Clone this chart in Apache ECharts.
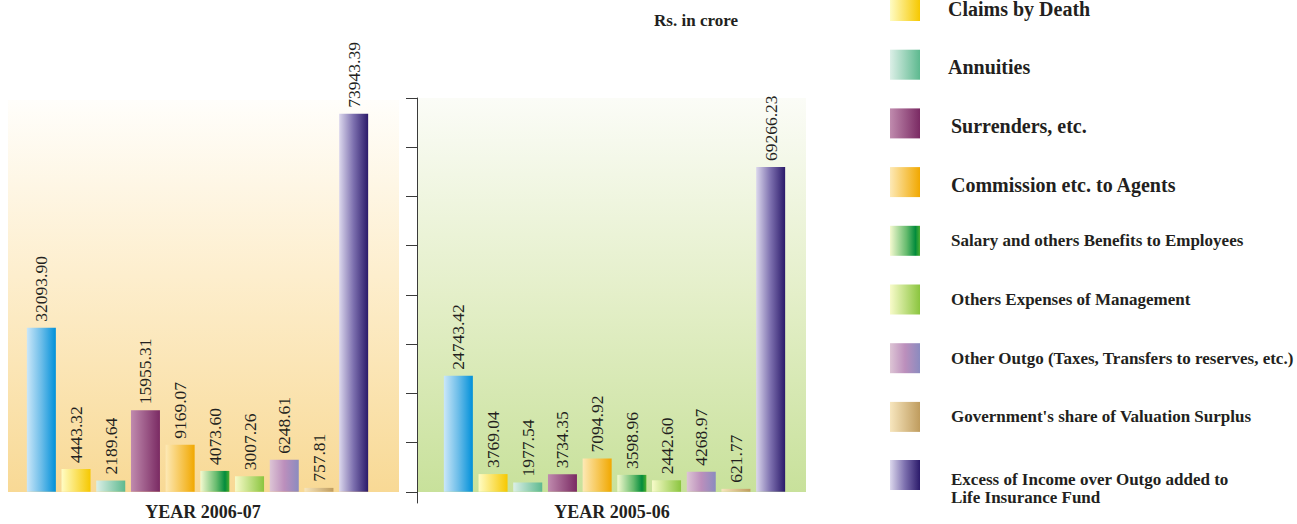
<!DOCTYPE html>
<html>
<head>
<meta charset="utf-8">
<title>Outgo - Rs. in crore</title>
<script src="https://cdn.jsdelivr.net/npm/echarts@6/dist/echarts.min.js"></script>
<style>
  html, body { margin: 0; padding: 0; background: #fff; }
  #chart { width: 1297px; height: 524px; }
</style>
</head>
<body>
<div id="chart"></div>
<script>
  // Rs. in crore
  const categories = [
    'Claims by Maturity',
    'Claims by Death',
    'Annuities',
    'Surrenders, etc.',
    'Commission etc. to Agents',
    'Salary and others Benefits to Employees',
    'Others Expenses of Management',
    'Other Outgo (Taxes, Transfers to reserves, etc.)',
    "Government's share of Valuation Surplus",
    'Excess of Income over Outgo added to Life Insurance Fund'
  ];
  const values2006 = [32093.90, 4443.32, 2189.64, 15955.31, 9169.07, 4073.60, 3007.26, 6248.61, 757.81, 73943.39];
  const values2005 = [24743.42, 3769.04, 1977.54, 3734.35, 7094.92, 3598.96, 2442.60, 4268.97, 621.77, 69266.23];
  const panelTitles = ['YEAR 2006-07', 'YEAR 2005-06'];
  const unitText = 'Rs. in crore';
  // unlabeled ticks on the right panel axis
  const rightTicks = [0, 10500, 21000, 31500, 42000, 52500, 63000, 73500, 84000];
  const excessLines = ['Excess of Income over Outgo added to', 'Life Insurance Fund'];

  // horizontal gradients, light left -> strong right
  const barColors = [
    [[0, '#cbe7f9'], [0.5, '#6cbde9'], [1, '#0090d9']],
    [[0, '#fffcc4'], [1, '#f6c800']],
    [[0, '#dcefe7'], [1, '#5db98f']],
    [[0, '#c08bae'], [1, '#7a2a63']],
    [[0, '#fde9b6'], [1, '#f1a800']],
    [[0, '#f5fad0'], [0.55, '#66bb6e'], [0.85, '#038c3c'], [1, '#4cae30']],
    [[0, '#f8fbca'], [1, '#8bc53f']],
    [[0, '#ddc5d5'], [0.5, '#bc8fbc'], [1, '#8b8bbf']],
    [[0, '#f7e6be'], [1, '#bf9c5e']],
    [[0, '#dcd8ed'], [0.5, '#7c6fae'], [1, '#2b1a6a']]
  ];

  const font = 'Liberation Serif';
  const ink = '#231f20';

  function grad(stops) {
    return new echarts.graphic.LinearGradient(0, 0, 1, 0,
      stops.map(s => ({offset: s[0], color: s[1]})));
  }

  function makeSeries(values, idx) {
    return categories.map((name, i) => ({
      name: name,
      type: 'bar',
      xAxisIndex: idx,
      yAxisIndex: idx,
      barWidth: 29,
      barGap: '-100%',
      data: values.map((v, j) => j === i ? v : '-'),
      itemStyle: {color: grad(barColors[i])},
      label: {
        show: true,
        position: 'top',
        distance: 6,
        rotate: 90,
        align: 'left',
        verticalAlign: 'middle',
        fontFamily: font,
        fontSize: 17.5,
        color: ink,
        formatter: p => p.value.toFixed(2)
      }
    }));
  }

  const chart = echarts.init(document.getElementById('chart'), null, {renderer: 'svg'});

  const option = {
    animation: false,
    backgroundColor: '#fff',
    graphic: [
      {
        type: 'rect', z: -1, silent: true,
        shape: {x: 8, y: 100, width: 391, height: 392},
        style: {fill: new echarts.graphic.LinearGradient(0, 0, 0, 1, [
          {offset: 0, color: '#fffefb'},
          {offset: 0.45, color: '#fdeecd'},
          {offset: 1, color: '#f8d995'}
        ])}
      },
      {
        type: 'rect', z: -1, silent: true,
        shape: {x: 417, y: 98, width: 389, height: 394},
        style: {fill: new echarts.graphic.LinearGradient(0, 0, 0, 1, [
          {offset: 0, color: '#fbfcf7'},
          {offset: 0.5, color: '#e4efc9'},
          {offset: 1, color: '#c8e19b'}
        ])}
      },
      {
        type: 'text', x: 203, y: 512,
        style: {text: panelTitles[0], align: 'center', verticalAlign: 'middle',
          font: 'bold 18px "' + font + '"', fill: ink}
      },
      {
        type: 'text', x: 612, y: 512,
        style: {text: panelTitles[1], align: 'center', verticalAlign: 'middle',
          font: 'bold 18px "' + font + '"', fill: ink}
      },
      {
        type: 'text', x: 696, y: 20,
        style: {text: unitText, align: 'center', verticalAlign: 'middle',
          font: 'bold 17px "' + font + '"', fill: ink}
      }
    ],
    legend: [
      {
        orient: 'vertical',
        left: 890,
        top: -9,
        padding: 0,
        itemWidth: 30,
        itemHeight: 30,
        itemGap: 28.7,
        icon: 'rect',
        selectedMode: false,
        data: categories.slice(1, 9),
        formatter: function (name) {
          const i = categories.indexOf(name);
          if (i <= 2) return '{a|' + name + '}';
          if (i <= 4) return '{b|' + name + '}';
          return '{s|' + name + '}';
        },
        textStyle: {
          color: ink,
          fontFamily: font,
          rich: {
            a: {fontFamily: font, fontWeight: 'bold', fontSize: 20, color: ink, padding: [5, 0, 0, 23]},
            b: {fontFamily: font, fontWeight: 'bold', fontSize: 20, color: ink, padding: [5, 0, 0, 26]},
            s: {fontFamily: font, fontWeight: 'bold', fontSize: 17, color: ink, padding: [0, 0, 0, 26]}
          }
        }
      },
      {
        orient: 'vertical',
        left: 890,
        top: 453,
        padding: 0,
        itemWidth: 30,
        itemHeight: 30,
        icon: 'rect',
        selectedMode: false,
        data: [categories[9]],
        formatter: () => '{g| }\n{t|' + excessLines[0] + '}\n{t|' + excessLines[1] + '}',
        textStyle: {
          color: ink,
          fontFamily: font,
          rich: {
            g: {fontSize: 8, lineHeight: 26},
            t: {fontFamily: font, fontWeight: 'bold', fontSize: 17, lineHeight: 18, color: ink, padding: [0, 0, 0, 26]}
          }
        }
      }
    ],
    grid: [
      {left: 24, top: 98, width: 347, height: 405},
      {left: 441, top: 98, width: 347, height: 405}
    ],
    xAxis: [
      {type: 'category', gridIndex: 0, data: categories, show: false},
      {type: 'category', gridIndex: 1, data: categories, show: false}
    ],
    yAxis: [
      {type: 'value', gridIndex: 0, min: -2200, max: 77000, show: false},
      {
        type: 'value', gridIndex: 1, min: -2400, max: 84000,
        position: 'left', offset: 24,
        axisLine: {show: true, lineStyle: {color: '#3a3a3a', width: 1}},
        axisTick: {show: true, length: 11, customValues: rightTicks, lineStyle: {color: '#3a3a3a', width: 1}},
        axisLabel: {show: false, customValues: rightTicks},
        splitLine: {show: false}
      }
    ],
    series: makeSeries(values2006, 0).concat(makeSeries(values2005, 1))
  };

  chart.setOption(option);
</script>
</body>
</html>
